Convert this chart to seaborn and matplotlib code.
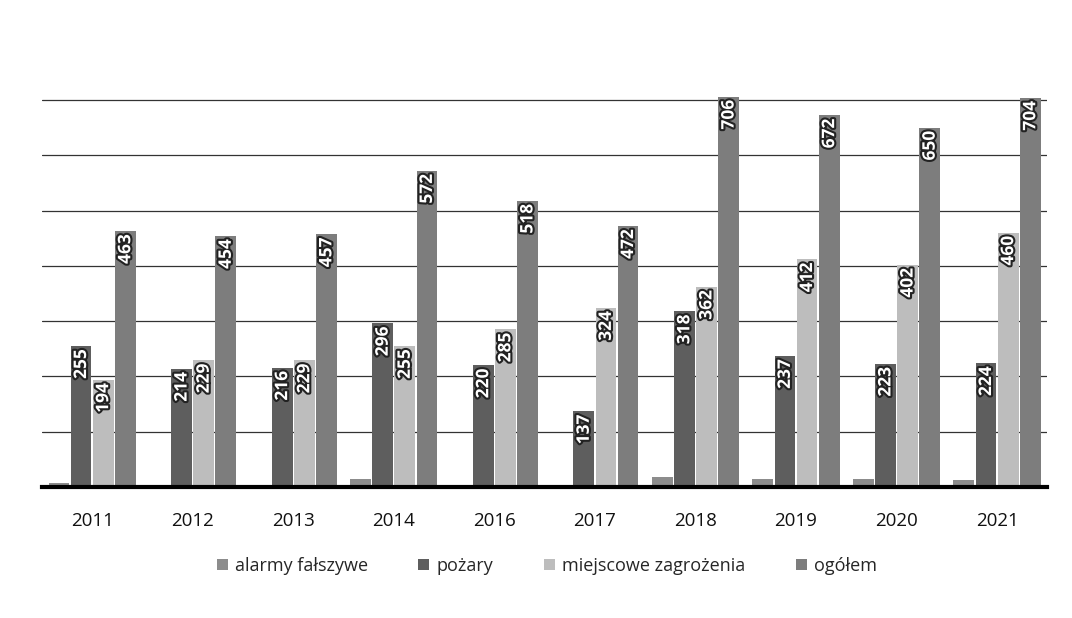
import matplotlib
matplotlib.use('Agg')
import matplotlib.pyplot as plt
import matplotlib.patheffects as pe
import pandas as pd
import seaborn as sns

# Data
lata = ['2011', '2012', '2013', '2014', '2016', '2017', '2018', '2019', '2020', '2021']
alarmy = [8, 4, 3, 14, 4, 2, 18, 14, 14, 12]
pozary = [255, 214, 216, 296, 220, 137, 318, 237, 223, 224]
miejscowe = [194, 229, 229, 255, 285, 324, 362, 412, 402, 460]
ogolem = [463, 454, 457, 572, 518, 472, 706, 672, 650, 704]
serie = ['alarmy fałszywe', 'pożary', 'miejscowe zagrożenia', 'ogółem']
kolory = ['#8c8c8c', '#5e5e5e', '#bdbdbd', '#7d7d7d']

rows = []
for nazwa, vals in zip(serie, [alarmy, pozary, miejscowe, ogolem]):
    for rok, v in zip(lata, vals):
        rows.append({'rok': rok, 'liczba': v, 'seria': nazwa})
df = pd.DataFrame(rows)

sns.set_style('white')
plt.rcParams['font.family'] = ['Open Sans', 'DejaVu Sans']

fig = plt.figure(figsize=(10.72, 6.18), dpi=100)
ax = fig.add_axes([0.039, 0.212, 0.938, 0.68])
sns.barplot(data=df, x='rok', y='liczba', hue='seria', hue_order=serie,
            palette=kolory, width=0.88, gap=0.06, saturation=1,
            edgecolor='none', ax=ax, legend=True)

ax.set_ylim(0, 760)
ax.set_xlim(-0.5, len(lata) - 0.5)
ax.set_yticks(range(100, 800, 100))
ax.yaxis.grid(True, color='#333333', linewidth=0.9)
ax.set_axisbelow(True)
ax.set_yticklabels([])
ax.tick_params(axis='y', length=0)
ax.tick_params(axis='x', length=0, pad=18, labelsize=13.5, labelcolor='#111111')
ax.set_xlabel('')
ax.set_ylabel('')
for s in ['top', 'right', 'left']:
    ax.spines[s].set_visible(False)
ax.spines['bottom'].set_color('black')
ax.spines['bottom'].set_linewidth(3)

# value labels inside bars (no labels for false alarms)
for cont in ax.containers[1:]:
    for p in cont:
        h = p.get_height()
        ax.text(p.get_x() + p.get_width() / 2, h - 6, f'{int(round(h))}',
                rotation=90, ha='center', va='top', color='white',
                fontsize=12.5, fontweight='bold',
                path_effects=[pe.withStroke(linewidth=3, foreground='#222222')])

handles, labels = ax.get_legend_handles_labels()
ax.get_legend().remove()
fig.legend(handles, labels, loc='center', bbox_to_anchor=(0.51, 0.084),
           ncol=4, frameon=False, fontsize=13, handlelength=0.6,
           handleheight=0.6, handletextpad=0.4, columnspacing=2.8)

fig.savefig('out.png', dpi=100)
